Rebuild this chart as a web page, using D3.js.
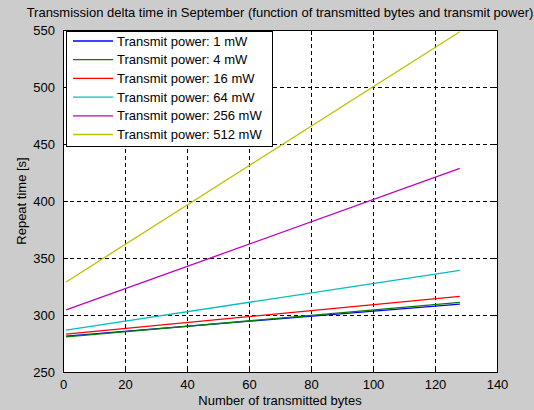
<!DOCTYPE html>
<html><head><meta charset="utf-8">
<script src="https://cdn.jsdelivr.net/npm/d3@7"></script>
<style>
html,body{margin:0;padding:0;background:#cccccc;}
svg{display:block;font-family:"Liberation Sans",Arial,sans-serif;}
</style></head>
<body>
<svg id="chart" width="534" height="410"></svg>
<script>
const title = "Transmission delta time in September (function of transmitted bytes and transmit power)";
const xLabel = "Number of transmitted bytes";
const yLabel = "Repeat time [s]";
const xTicks = [0, 20, 40, 60, 80, 100, 120, 140];
const yTicks = [250, 300, 350, 400, 450, 500, 550];
const bytes = [1, 128];
const seriesNames = ["Transmit power: 1 mW", "Transmit power: 4 mW", "Transmit power: 16 mW",
  "Transmit power: 64 mW", "Transmit power: 256 mW", "Transmit power: 512 mW"];
const colors = ["#0000ff", "#008000", "#ff0000", "#00bfbf", "#bf00bf", "#bfbf00"];
const p1 = [281.5, 309.6];
const p4 = [280.8, 311.1];
const p16 = [283.3, 316.4];
const p64 = [286.8, 339.2];
const p256 = [304.4, 428.7];
const p512 = [329.0, 548.5];
const series = [p1, p4, p16, p64, p256, p512];

const FS = "13px";
const svg = d3.select("#chart");
const L = 63, R = 497, T = 30, B = 372;
const x = d3.scaleLinear().domain([0, 140]).range([L, R]);
const y = d3.scaleLinear().domain([250, 550]).range([B, T]);

svg.append("rect").attr("x", L).attr("y", T).attr("width", R - L).attr("height", B - T).attr("fill", "#fff");

// grid
const g = svg.append("g").attr("shape-rendering", "crispEdges");
xTicks.filter(t => t > 0 && t < 140).forEach(t => {
  g.append("line").attr("x1", x(t)).attr("x2", x(t)).attr("y1", T).attr("y2", B)
   .attr("stroke", "#000").attr("stroke-dasharray", "4,3");
});
yTicks.filter(t => t > 250 && t < 550).forEach(t => {
  g.append("line").attr("x1", L).attr("x2", R).attr("y1", y(t)).attr("y2", y(t))
   .attr("stroke", "#000").attr("stroke-dasharray", "4,3");
});

// lines
const line = d3.line().x((d, i) => x(bytes[i])).y(d => y(d));
series.forEach((s, i) => {
  svg.append("path").datum(s).attr("d", line).attr("fill", "none")
    .attr("stroke", colors[i]).attr("stroke-width", 1.3);
});

// axes
const axB = d3.axisBottom(x).tickValues(xTicks).tickSize(-5).tickPadding(8);
const axT = d3.axisTop(x).tickValues(xTicks).tickSize(-5).tickFormat("");
const axL = d3.axisLeft(y).tickValues(yTicks).tickSize(-5).tickPadding(8);
const axR = d3.axisRight(y).tickValues(yTicks).tickSize(-5).tickFormat("");
function style(sel){
  sel.attr("shape-rendering", "crispEdges");
  sel.selectAll("path").attr("stroke", "#000");
  sel.selectAll("line").attr("stroke", "#000");
  sel.selectAll("text").attr("fill", "#000").style("font-size", FS)
    .style("font-family", "Liberation Sans, Arial, sans-serif");
}
svg.append("g").attr("transform", `translate(0,${B})`).call(axB).call(style);
svg.append("g").attr("transform", `translate(0,${T})`).call(axT).call(style);
svg.append("g").attr("transform", `translate(${L},0)`).call(axL).call(style);
svg.append("g").attr("transform", `translate(${R},0)`).call(axR).call(style);
svg.selectAll(".domain").attr("d", null);
svg.append("rect").attr("x", L).attr("y", T).attr("width", R - L).attr("height", B - T)
  .attr("fill", "none").attr("stroke", "#000").attr("shape-rendering", "crispEdges");

// labels
svg.append("text").attr("x", (L + R) / 2).attr("y", 17).attr("text-anchor", "middle")
  .style("font-size", FS).text(title);
svg.append("text").attr("x", (L + R) / 2).attr("y", 405).attr("text-anchor", "middle")
  .style("font-size", FS).text(xLabel);
svg.append("text").attr("transform", `translate(26,${(T + B) / 2}) rotate(-90)`)
  .attr("text-anchor", "middle").style("font-size", FS).text(yLabel);

// legend
const lg = svg.append("g");
lg.append("rect").attr("x", 66).attr("y", 31).attr("width", 206).attr("height", 115)
  .attr("fill", "#fff").attr("stroke", "#000").attr("shape-rendering", "crispEdges");
seriesNames.forEach((n, i) => {
  const yy = 41 + i * 18.7;
  lg.append("line").attr("x1", 73).attr("x2", 113).attr("y1", yy).attr("y2", yy)
    .attr("stroke", colors[i]).attr("stroke-width", 1.3);
  lg.append("text").attr("x", 117).attr("y", yy + 4.5).style("font-size", FS).text(n);
});
</script>
</body></html>
